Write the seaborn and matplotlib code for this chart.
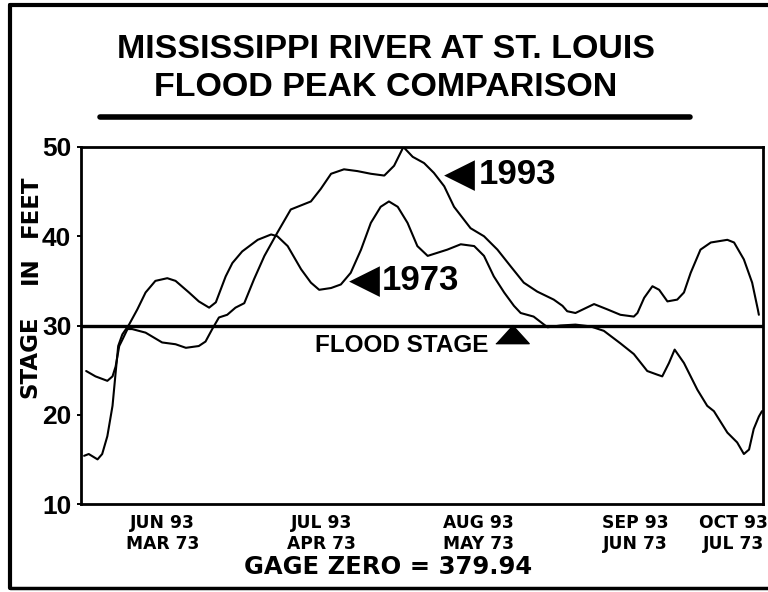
import numpy as np
import pandas as pd
import matplotlib.pyplot as plt
import seaborn as sns
from matplotlib.lines import Line2D

# day 0 = first day of Jun 1993 / Mar 1973, stage in feet
days_1993 = [1.0, 2.8, 5.1, 6.1, 6.7, 7.4, 8.0, 9.0, 9.9, 12.5, 15.7, 18.3, 20.3, 22.8, 24.1,
             25.4, 26.7, 28.3, 29.9, 31.6, 33.5, 35.5, 38.0, 40.6, 44.5, 46.4, 48.4, 50.9,
             53.5, 56.1, 58.7, 60.6, 62.4, 64.2, 66.4, 68.3, 70.3, 72.2, 75.4, 78.0, 80.6,
             83.2, 85.7, 88.3, 91.5, 93.2, 94.1, 95.7, 99.3, 101.9, 104.4, 107.0, 107.7,
             109.0, 110.6, 111.9, 113.5, 115.4, 116.7, 118.0, 119.9, 121.9, 125.1, 126.4,
             128.3, 129.9, 131.0, 131.2]
stage_1993 = [24.9, 24.3, 23.8, 24.3, 25.4, 27.7, 28.4, 29.6, 29.6, 29.2, 28.1, 27.9, 27.5, 27.7, 28.2,
              29.6, 30.9, 31.2, 32.0, 32.5, 35.2, 37.8, 40.4, 43.0, 43.9, 45.3, 47.0, 47.5,
              47.3, 47.0, 46.8, 47.9, 50.0, 48.9, 48.2, 47.1, 45.6, 43.3, 40.9, 40.0, 38.5,
              36.6, 34.8, 33.8, 32.9, 32.2, 31.6, 31.4, 32.4, 31.8, 31.2, 31.0, 31.4,
              33.1, 34.4, 34.0, 32.7, 32.9, 33.7, 35.9, 38.5, 39.3, 39.6, 39.3,
              37.4, 34.8, 31.8, 31.2]

days_1973 = [0.6, 1.5, 3.2, 4.1, 5.1, 6.1, 6.7, 7.2, 8.0, 9.3, 10.9, 12.5, 14.4, 16.7, 18.3,
             20.9, 22.8, 24.8, 26.1, 28.0, 29.3, 31.2, 34.2, 36.8, 38.0, 40.0, 42.6, 44.5,
             46.1, 48.4, 50.3, 52.2, 54.2, 56.1, 58.0, 59.6, 61.3, 63.2, 65.1, 67.1, 70.9,
             73.5, 76.1, 78.0, 79.9, 81.9, 83.8, 85.1, 87.6, 90.3, 92.8, 95.7, 98.6, 101.2,
             104.4, 107.0, 109.6, 111.5, 112.5, 113.8, 114.9, 116.7, 119.3, 121.2, 122.5,
             125.1, 127.0, 128.3, 129.3, 130.2, 131.2, 131.8]
stage_1973 = [15.4, 15.6, 15.0, 15.6, 17.6, 21.0, 24.7, 27.7, 29.0, 30.1, 31.8, 33.7, 35.0, 35.3, 35.0,
              33.7, 32.7, 32.0, 32.6, 35.5, 37.0, 38.3, 39.6, 40.2, 40.0, 38.9, 36.3, 34.8,
              34.0, 34.2, 34.6, 35.9, 38.5, 41.5, 43.3, 43.9, 43.3, 41.5, 38.9, 37.8, 38.5,
              39.1, 38.9, 37.8, 35.5, 33.7, 32.2, 31.4, 31.0, 29.8, 30.0, 30.1, 29.9, 29.4,
              28.0, 26.8, 24.9, 24.5, 24.3, 25.8, 27.3, 25.8, 22.8, 21.0, 20.4,
              18.0, 16.9, 15.6, 16.1, 18.4, 19.8, 20.4]

month_edges = [31, 61, 92, 122]
month_centers = [15.8, 46.5, 77, 107.3, 126.3]
month_labels = ['JUN 93\nMAR 73', 'JUL 93\nAPR 73', 'AUG 93\nMAY 73', 'SEP 93\nJUN 73', 'OCT 93\nJUL 73']
y_ticks = [10, 20, 30, 40, 50]
flood_stage = 30

df93 = pd.DataFrame({'day': days_1993, 'stage': stage_1993})
df73 = pd.DataFrame({'day': days_1973, 'stage': stage_1973})

sns.set_style('white')
plt.rcParams['font.family'] = ['Liberation Sans', 'DejaVu Sans']
plt.rcParams['font.weight'] = 'bold'
plt.rcParams['text.color'] = 'black'
plt.rcParams['xtick.color'] = 'black'
plt.rcParams['ytick.color'] = 'black'

W, H = 768, 592
fig = plt.figure(figsize=(W / 100, H / 100), dpi=100)
ax = fig.add_axes([81 / W, 1 - 504 / H, (763 - 81) / W, (504 - 147) / H])

sns.lineplot(data=df93, x='day', y='stage', color='black', lw=1.5, sort=False, estimator=None, ax=ax)
sns.lineplot(data=df73, x='day', y='stage', color='black', lw=1.5, sort=False, estimator=None, ax=ax)
ax.axhline(flood_stage, color='black', lw=2.4)

ax.set_xlim(0, 132)
ax.set_ylim(10, 50)
ax.set_xlabel('')
ax.set_ylabel('')

# month boundaries as inward ticks, labels in the middle of each month
ax.set_xticks(month_edges)
ax.set_xticklabels([])
ax.set_xticks(month_centers, minor=True)
ax.set_xticklabels(month_labels, minor=True, fontsize=12.3, fontweight='bold',
                   linespacing=1.25, family='DejaVu Sans')
ax.tick_params(axis='x', which='major', direction='in', length=9, width=1.4, color='black')
ax.tick_params(axis='x', which='minor', length=0, pad=7)

ax.set_yticks(y_ticks)
ax.set_yticklabels([str(v) for v in y_ticks], fontsize=19, fontweight='bold')
ax.tick_params(axis='y', direction='out', length=3, width=1.4, pad=4, color='black', left=True)

for s in ax.spines.values():
    s.set_color('black')
    s.set_linewidth(2)

# labels on the curves
ax.text(73.3, 46.9, '\u25c0', fontsize=29, va='center', ha='center', family='DejaVu Sans')
ax.text(76.9, 46.9, '1993', fontsize=25, fontweight='bold', va='center', ha='left')
ax.text(54.8, 35.0, '\u25c0', fontsize=29, va='center', ha='center', family='DejaVu Sans')
ax.text(58.3, 35.0, '1973', fontsize=25, fontweight='bold', va='center', ha='left')
ax.text(78.8, 27.8, 'FLOOD STAGE', fontsize=17.5, fontweight='bold', va='center', ha='right')
ax.plot([83.4], [29.0], marker=[(-1, -0.55), (1, -0.55), (0, 0.55)], markersize=24,
        color='black', linestyle='none')

# y label as three words, spread like the original
for word, ypix in [('STAGE', 357), ('IN', 270), ('FEET', 206)]:
    fig.text(30 / W, 1 - ypix / H, word, rotation=90, fontsize=16.5, fontweight='bold',
             ha='center', va='center', family='DejaVu Sans')

fig.text(388 / W, 1 - 567 / H, 'GAGE ZERO = 379.94', fontsize=17.5, fontweight='bold',
         ha='center', va='center', family='DejaVu Sans')

# title and underline
fig.text(386 / W, 1 - 50 / H, 'MISSISSIPPI RIVER AT ST. LOUIS', fontsize=24.5,
         fontweight='bold', ha='center', va='center')
fig.text(386 / W, 1 - 87 / H, 'FLOOD PEAK COMPARISON', fontsize=24.5,
         fontweight='bold', ha='center', va='center')
fig.add_artist(Line2D([100 / W, 690 / W], [1 - 117 / H, 1 - 117 / H], color='black',
                      lw=4, solid_capstyle='round'))

# outer frame
fig.add_artist(Line2D([9.5 / W, 9.5 / W], [1 - 5 / H, 1 - 588 / H], color='black', lw=3))
fig.add_artist(Line2D([9.5 / W, 1], [1 - 5 / H, 1 - 5 / H], color='black', lw=3))
fig.add_artist(Line2D([9.5 / W, 1], [1 - 588 / H, 1 - 588 / H], color='black', lw=2.5))

fig.savefig('out.png', dpi=100)
